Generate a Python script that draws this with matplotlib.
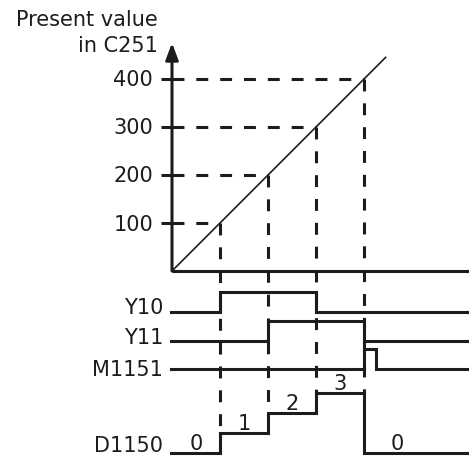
import matplotlib
matplotlib.use("Agg")
import matplotlib.pyplot as plt

plt.rcParams['font.family'] = ['DejaVu Sans']

# Valores
count_marks = [100, 200, 300, 400]      # valor presente em C251
count_end = 445                          # reta passa um pouco do 400
x_end = 618

y10_t = [0, 100, 300]
y10_s = [0, 1, 0]
y11_t = [0, 200, 400]
y11_s = [0, 1, 0]
m1151_t = [0, 400, 425]
m1151_s = [0, 1, 0]
d1150_t = [0, 100, 200, 300, 400]
d1150_v = [0, 1, 2, 3, 0]
d1150_lbl_x = [50, 150, 250, 350, 470]

cor = '#1e1b1c'
fs = 15
S = 0.48            # pixels por unidade
X0, Y0 = 172, 271   # origem em pixels
cap = 7.5           # meia altura das maiúsculas, px


def ux(p):
    return (p - X0) / S


def uy(p):
    return (Y0 - p) / S


fig = plt.figure(figsize=(4.69, 4.57), dpi=100)
ax = fig.add_axes([0, 0, 1, 1])
ax.set_xlim(ux(0), ux(469))
ax.set_ylim(uy(457), uy(0))
ax.axis('off')

lw = 2.2
dash = dict(color=cor, lw=lw, dashes=(3.9, 3.9), dash_capstyle='butt')

# eixos
ax.plot([0, x_end], [0, 0], color=cor, lw=lw, solid_capstyle='butt')
ax.annotate('', xy=(0, uy(43)), xytext=(0, 0),
            arrowprops=dict(arrowstyle='-|>,head_length=1.0,head_width=0.38',
                            lw=lw, color=cor, shrinkA=0, shrinkB=0,
                            mutation_scale=10))

# reta do contador
ax.plot([0, count_end], [0, count_end], color=cor, lw=1.2)

# linhas de nível de cada sinal (pixels)
amp = 20 / S
y10_base = uy(312)
y11_base = uy(341)
m1151_base = uy(369)
d1150_base = uy(453)


def d_level(v):
    return d1150_base + v * amp


for i, v in enumerate(count_marks):
    ax.plot([ux(161), 0], [v, v], color=cor, lw=lw, solid_capstyle='butt')
    ax.plot([0, v], [v, v], **dash)
    ax.text(ux(153), v - cap / S, str(v), ha='right', va='baseline',
            fontsize=fs, color=cor)
    # até o degrau do D1150
    j = d1150_t.index(v)
    bottom = d_level(max(d1150_v[j - 1], d1150_v[j]))
    ax.plot([v, v], [v, bottom], **dash)


def sinal(t, s, base):
    xs = [ux(171)] + t[1:] + [x_end]
    ys = [base + k * amp for k in s] + [base + s[-1] * amp]
    ax.step(xs, ys, where='post', color=cor, lw=lw, solid_joinstyle='miter')


sinal(y10_t, y10_s, y10_base)
sinal(y11_t, y11_s, y11_base)
sinal(m1151_t, m1151_s, m1151_base)
sinal(d1150_t, d1150_v, d1150_base)

for x, v in zip(d1150_lbl_x, d1150_v):
    ax.text(x, d_level(v) + 11 / S - cap / S, str(v), ha='center',
            va='baseline', fontsize=fs, color=cor)

# rótulos
for nome, cy in [('Y10', 307), ('Y11', 337), ('M1151', 369), ('D1150', 445)]:
    ax.text(ux(163), uy(cy + cap), nome, ha='right', va='baseline',
            fontsize=fs, color=cor)

ax.text(ux(158), uy(19 + cap), 'Present value', ha='right', va='baseline',
        fontsize=fs, color=cor)
ax.text(ux(158), uy(45 + cap), 'in C251', ha='right', va='baseline',
        fontsize=fs, color=cor)

fig.savefig('out.png', dpi=100)
